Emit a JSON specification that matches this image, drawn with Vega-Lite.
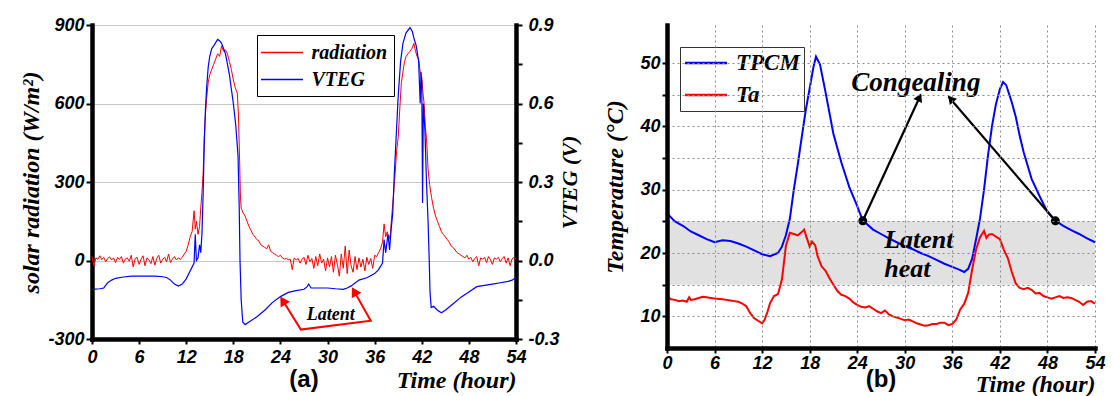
{
  "$schema": "https://vega.github.io/schema/vega-lite/v6.json",
  "background": "white",
  "padding": {"left": 19, "top": 16, "right": 5, "bottom": 0},
  "spacing": 22,
  "datasets": {
    "rad": [
      {"h":0,"r":15},{"h":0.25,"r":-20},{"h":0.5,"r":10},{"h":0.75,"r":5},{"h":1,"r":18},{"h":1.25,"r":3},{"h":1.5,"r":12},{"h":1.75,"r":-5},{"h":2,"r":8},{"h":2.25,"r":14},{"h":2.5,"r":2},{"h":2.75,"r":10},{"h":3,"r":-8},{"h":3.25,"r":12},{"h":3.5,"r":4},{"h":3.75,"r":15},{"h":4,"r":-10},{"h":4.25,"r":6},{"h":4.5,"r":10},{"h":4.75,"r":-3},{"h":5,"r":20},{"h":5.25,"r":-25},{"h":5.5,"r":8},{"h":5.75,"r":12},{"h":6,"r":-15},{"h":6.25,"r":5},{"h":6.5,"r":18},{"h":6.75,"r":-20},{"h":7,"r":10},{"h":7.25,"r":3},{"h":7.5,"r":-12},{"h":7.75,"r":15},{"h":8,"r":-18},{"h":8.25,"r":8},{"h":8.5,"r":20},{"h":8.75,"r":-10},{"h":9,"r":5},{"h":9.25,"r":12},{"h":9.5,"r":-5},{"h":9.75,"r":25},{"h":10,"r":-8},{"h":10.25,"r":6},{"h":10.5,"r":15},{"h":10.75,"r":2},{"h":11,"r":10},{"h":11.25,"r":5},{"h":11.5,"r":12},{"h":11.75,"r":25},{"h":12,"r":35},{"h":12.25,"r":60},{"h":12.5,"r":90},{"h":12.75,"r":110},{"h":13,"r":190},{"h":13.15,"r":120},{"h":13.3,"r":150},{"h":13.5,"r":100},{"h":13.7,"r":130},{"h":13.85,"r":200},{"h":14,"r":260},{"h":14.15,"r":330},{"h":14.3,"r":470},{"h":14.45,"r":560},{"h":14.6,"r":620},{"h":14.8,"r":680},{"h":15,"r":710},{"h":15.25,"r":730},{"h":15.5,"r":750},{"h":15.75,"r":770},{"h":16,"r":790},{"h":16.25,"r":780},{"h":16.5,"r":820},{"h":16.75,"r":800},{"h":17,"r":805},{"h":17.25,"r":790},{"h":17.5,"r":760},{"h":17.75,"r":730},{"h":18,"r":690},{"h":18.25,"r":660},{"h":18.5,"r":640},{"h":18.65,"r":560},{"h":18.8,"r":380},{"h":18.9,"r":250},{"h":19,"r":200},{"h":19.2,"r":185},{"h":19.5,"r":170},{"h":19.75,"r":150},{"h":20,"r":130},{"h":20.25,"r":115},{"h":20.5,"r":100},{"h":20.75,"r":90},{"h":21,"r":80},{"h":21.25,"r":75},{"h":21.5,"r":60},{"h":21.75,"r":55},{"h":22,"r":50},{"h":22.25,"r":45},{"h":22.5,"r":60},{"h":22.75,"r":35},{"h":23,"r":30},{"h":23.25,"r":25},{"h":23.5,"r":20},{"h":23.75,"r":15},{"h":24,"r":20},{"h":24.25,"r":10},{"h":24.5,"r":5},{"h":24.75,"r":8},{"h":25,"r":3},{"h":25.25,"r":5},{"h":25.5,"r":-35},{"h":25.75,"r":10},{"h":26,"r":2},{"h":26.25,"r":8},{"h":26.5,"r":-10},{"h":26.75,"r":5},{"h":27,"r":12},{"h":27.25,"r":-15},{"h":27.5,"r":20},{"h":27.75,"r":-5},{"h":28,"r":8},{"h":28.25,"r":-30},{"h":28.5,"r":15},{"h":28.75,"r":-20},{"h":29,"r":25},{"h":29.25,"r":-10},{"h":29.5,"r":5},{"h":29.75,"r":-40},{"h":30,"r":10},{"h":30.25,"r":-25},{"h":30.5,"r":15},{"h":30.75,"r":-45},{"h":31,"r":20},{"h":31.25,"r":-15},{"h":31.5,"r":-60},{"h":31.75,"r":25},{"h":32,"r":-30},{"h":32.25,"r":55},{"h":32.5,"r":-50},{"h":32.75,"r":40},{"h":33,"r":-20},{"h":33.25,"r":-45},{"h":33.5,"r":15},{"h":33.75,"r":-35},{"h":34,"r":10},{"h":34.25,"r":-25},{"h":34.5,"r":5},{"h":34.75,"r":-40},{"h":35,"r":12},{"h":35.25,"r":-15},{"h":35.5,"r":8},{"h":35.75,"r":-30},{"h":36,"r":20},{"h":36.25,"r":15},{"h":36.5,"r":30},{"h":36.75,"r":45},{"h":37,"r":70},{"h":37.2,"r":140},{"h":37.4,"r":90},{"h":37.6,"r":110},{"h":37.8,"r":80},{"h":38,"r":100},{"h":38.2,"r":180},{"h":38.4,"r":250},{"h":38.6,"r":330},{"h":38.8,"r":420},{"h":39,"r":470},{"h":39.2,"r":580},{"h":39.4,"r":680},{"h":39.6,"r":720},{"h":39.8,"r":760},{"h":40,"r":780},{"h":40.25,"r":790},{"h":40.5,"r":800},{"h":40.75,"r":810},{"h":41,"r":830},{"h":41.2,"r":800},{"h":41.4,"r":780},{"h":41.6,"r":770},{"h":41.8,"r":720},{"h":42,"r":700},{"h":42.15,"r":640},{"h":42.3,"r":600},{"h":42.45,"r":510},{"h":42.6,"r":470},{"h":42.8,"r":350},{"h":43,"r":290},{"h":43.25,"r":240},{"h":43.5,"r":200},{"h":43.75,"r":170},{"h":44,"r":150},{"h":44.25,"r":130},{"h":44.5,"r":110},{"h":44.75,"r":100},{"h":45,"r":90},{"h":45.25,"r":80},{"h":45.5,"r":70},{"h":45.75,"r":55},{"h":46,"r":50},{"h":46.25,"r":40},{"h":46.5,"r":30},{"h":46.75,"r":25},{"h":47,"r":20},{"h":47.25,"r":15},{"h":47.5,"r":10},{"h":47.75,"r":20},{"h":48,"r":5},{"h":48.25,"r":12},{"h":48.5,"r":-5},{"h":48.75,"r":8},{"h":49,"r":15},{"h":49.25,"r":-20},{"h":49.5,"r":10},{"h":49.75,"r":5},{"h":50,"r":12},{"h":50.25,"r":-8},{"h":50.5,"r":15},{"h":50.75,"r":3},{"h":51,"r":-15},{"h":51.25,"r":10},{"h":51.5,"r":5},{"h":51.75,"r":12},{"h":52,"r":-5},{"h":52.25,"r":8},{"h":52.5,"r":15},{"h":52.75,"r":-10},{"h":53,"r":10},{"h":53.25,"r":-20},{"h":53.5,"r":6},{"h":53.75,"r":12},{"h":54,"r":5}
    ],
    "vteg": [
      {"h":0,"v":-0.11},{"h":1,"v":-0.108},{"h":1.5,"v":-0.105},{"h":2,"v":-0.085},{"h":2.5,"v":-0.075},{"h":3,"v":-0.068},{"h":4,"v":-0.063},{"h":5,"v":-0.06},{"h":6,"v":-0.06},{"h":7,"v":-0.06},{"h":8,"v":-0.06},{"h":9,"v":-0.062},{"h":9.5,"v":-0.065},{"h":10,"v":-0.075},{"h":10.5,"v":-0.09},{"h":11,"v":-0.098},{"h":11.5,"v":-0.09},{"h":12,"v":-0.07},{"h":12.5,"v":-0.04},{"h":13,"v":-0.01},{"h":13.15,"v":0.1},{"h":13.3,"v":0.0},{"h":13.5,"v":0.01},{"h":13.7,"v":0.06},{"h":13.85,"v":0.03},{"h":14,"v":0.1},{"h":14.15,"v":0.25},{"h":14.3,"v":0.45},{"h":14.45,"v":0.58},{"h":14.6,"v":0.66},{"h":14.8,"v":0.74},{"h":15,"v":0.78},{"h":15.25,"v":0.81},{"h":15.5,"v":0.82},{"h":16,"v":0.845},{"h":16.25,"v":0.84},{"h":16.5,"v":0.83},{"h":17,"v":0.79},{"h":17.5,"v":0.71},{"h":18,"v":0.6},{"h":18.3,"v":0.52},{"h":18.6,"v":0.4},{"h":18.75,"v":0.2},{"h":18.85,"v":0.0},{"h":19,"v":-0.15},{"h":19.2,"v":-0.235},{"h":19.5,"v":-0.245},{"h":20,"v":-0.235},{"h":21,"v":-0.215},{"h":22,"v":-0.19},{"h":23,"v":-0.16},{"h":24,"v":-0.138},{"h":25,"v":-0.122},{"h":26,"v":-0.115},{"h":27,"v":-0.11},{"h":27.4,"v":-0.1},{"h":27.6,"v":-0.09},{"h":27.9,"v":-0.105},{"h":28.5,"v":-0.105},{"h":30,"v":-0.105},{"h":31,"v":-0.108},{"h":32,"v":-0.11},{"h":32.5,"v":-0.105},{"h":33,"v":-0.097},{"h":34,"v":-0.075},{"h":35,"v":-0.066},{"h":36,"v":-0.05},{"h":36.5,"v":-0.035},{"h":37,"v":-0.01},{"h":37.2,"v":0.08},{"h":37.4,"v":0.03},{"h":37.7,"v":0.1},{"h":37.9,"v":0.04},{"h":38.1,"v":0.12},{"h":38.3,"v":0.18},{"h":38.5,"v":0.33},{"h":38.7,"v":0.45},{"h":39,"v":0.63},{"h":39.3,"v":0.76},{"h":39.6,"v":0.83},{"h":40,"v":0.87},{"h":40.5,"v":0.89},{"h":40.8,"v":0.875},{"h":41,"v":0.85},{"h":41.3,"v":0.82},{"h":41.6,"v":0.76},{"h":41.8,"v":0.6},{"h":41.9,"v":0.72},{"h":42,"v":0.68},{"h":42.1,"v":0.22},{"h":42.2,"v":0.6},{"h":42.4,"v":0.5},{"h":42.6,"v":0.3},{"h":42.8,"v":0.15},{"h":42.95,"v":0.0},{"h":43.05,"v":-0.12},{"h":43.2,"v":-0.18},{"h":43.5,"v":-0.175},{"h":44,"v":-0.19},{"h":44.5,"v":-0.2},{"h":45,"v":-0.19},{"h":46,"v":-0.165},{"h":47,"v":-0.14},{"h":48,"v":-0.12},{"h":49,"v":-0.1},{"h":50,"v":-0.095},{"h":51,"v":-0.09},{"h":52,"v":-0.085},{"h":53,"v":-0.08},{"h":53.5,"v":-0.075},{"h":54,"v":-0.065}
    ],
    "latentPath": [
      {"h":24.3,"r":-153,"o":1},{"h":26.6,"r":-264,"o":2},{"h":35.5,"r":-230,"o":3},{"h":33.4,"r":-118,"o":4}
    ],
    "latentHead1": [{"h":24.3,"r":-153}],
    "latentHead2": [{"h":33.4,"r":-118}],
    "latentText": [{"h":30.4,"r":-208,"t":"Latent"}],
    "temps": [
      {"s":"TPCM","h":0,"t":27.2},{"s":"TPCM","h":0.2,"t":26},{"s":"TPCM","h":1,"t":25},{"s":"TPCM","h":2,"t":24.3},{"s":"TPCM","h":3,"t":23.4},{"s":"TPCM","h":4,"t":22.8},{"s":"TPCM","h":5,"t":22.2},{"s":"TPCM","h":6,"t":21.7},{"s":"TPCM","h":7,"t":22.0},{"s":"TPCM","h":8,"t":21.9},{"s":"TPCM","h":9,"t":21.5},{"s":"TPCM","h":10,"t":21.0},{"s":"TPCM","h":11,"t":20.4},{"s":"TPCM","h":12,"t":19.8},{"s":"TPCM","h":13,"t":19.5},{"s":"TPCM","h":14,"t":20.0},{"s":"TPCM","h":14.5,"t":21.0},{"s":"TPCM","h":15,"t":22.8},{"s":"TPCM","h":15.5,"t":25.4},{"s":"TPCM","h":16,"t":30},{"s":"TPCM","h":16.5,"t":34},{"s":"TPCM","h":17,"t":38.3},{"s":"TPCM","h":17.5,"t":42.5},{"s":"TPCM","h":18,"t":46},{"s":"TPCM","h":18.5,"t":49.5},{"s":"TPCM","h":18.8,"t":51},{"s":"TPCM","h":19.3,"t":49.8},{"s":"TPCM","h":20,"t":45.4},{"s":"TPCM","h":21,"t":38.8},{"s":"TPCM","h":22,"t":34.3},{"s":"TPCM","h":23,"t":30.4},{"s":"TPCM","h":24,"t":27.4},{"s":"TPCM","h":24.7,"t":25.1},{"s":"TPCM","h":25,"t":24.8},{"s":"TPCM","h":26,"t":23.7},{"s":"TPCM","h":27,"t":23},{"s":"TPCM","h":28,"t":22.3},{"s":"TPCM","h":29,"t":21.7},{"s":"TPCM","h":30,"t":21.1},{"s":"TPCM","h":31,"t":20.6},{"s":"TPCM","h":32,"t":20.0},{"s":"TPCM","h":33,"t":19.5},{"s":"TPCM","h":34,"t":18.9},{"s":"TPCM","h":35,"t":18.3},{"s":"TPCM","h":36,"t":17.8},{"s":"TPCM","h":37,"t":17.3},{"s":"TPCM","h":37.5,"t":17.0},{"s":"TPCM","h":38,"t":17.5},{"s":"TPCM","h":38.5,"t":19.1},{"s":"TPCM","h":39,"t":22.2},{"s":"TPCM","h":39.5,"t":25.5},{"s":"TPCM","h":40,"t":30},{"s":"TPCM","h":40.5,"t":35.4},{"s":"TPCM","h":41,"t":40},{"s":"TPCM","h":41.5,"t":43.5},{"s":"TPCM","h":42,"t":45.9},{"s":"TPCM","h":42.4,"t":47},{"s":"TPCM","h":42.8,"t":46.5},{"s":"TPCM","h":43.5,"t":43.8},{"s":"TPCM","h":44,"t":41.5},{"s":"TPCM","h":44.5,"t":38.5},{"s":"TPCM","h":45,"t":35.9},{"s":"TPCM","h":46,"t":31.7},{"s":"TPCM","h":47,"t":29},{"s":"TPCM","h":48,"t":26.5},{"s":"TPCM","h":49,"t":25.1},{"s":"TPCM","h":50,"t":24.3},{"s":"TPCM","h":51,"t":23.6},{"s":"TPCM","h":52,"t":23},{"s":"TPCM","h":53,"t":22.3},{"s":"TPCM","h":54,"t":21.7},
      {"s":"Ta","h":0,"t":13.2},{"s":"Ta","h":0.5,"t":12.7},{"s":"Ta","h":1,"t":12.6},{"s":"Ta","h":1.5,"t":12.4},{"s":"Ta","h":2,"t":12.5},{"s":"Ta","h":2.5,"t":12.3},{"s":"Ta","h":2.8,"t":13.0},{"s":"Ta","h":3,"t":12.6},{"s":"Ta","h":3.5,"t":12.7},{"s":"Ta","h":4,"t":12.9},{"s":"Ta","h":4.5,"t":13.1},{"s":"Ta","h":5,"t":13.0},{"s":"Ta","h":5.5,"t":12.9},{"s":"Ta","h":6,"t":12.8},{"s":"Ta","h":7,"t":12.7},{"s":"Ta","h":7.5,"t":12.6},{"s":"Ta","h":8,"t":12.5},{"s":"Ta","h":8.5,"t":12.4},{"s":"Ta","h":9,"t":12.3},{"s":"Ta","h":9.5,"t":12.0},{"s":"Ta","h":10,"t":11.6},{"s":"Ta","h":10.5,"t":10.5},{"s":"Ta","h":11,"t":9.7},{"s":"Ta","h":11.5,"t":9.3},{"s":"Ta","h":12,"t":8.9},{"s":"Ta","h":12.3,"t":9.4},{"s":"Ta","h":12.7,"t":10.8},{"s":"Ta","h":13,"t":12.1},{"s":"Ta","h":13.5,"t":13.2},{"s":"Ta","h":14,"t":13.5},{"s":"Ta","h":14.5,"t":15.8},{"s":"Ta","h":15,"t":21.1},{"s":"Ta","h":15.5,"t":23.2},{"s":"Ta","h":16,"t":23.0},{"s":"Ta","h":16.5,"t":22.8},{"s":"Ta","h":17,"t":23.3},{"s":"Ta","h":17.3,"t":23.7},{"s":"Ta","h":17.6,"t":22.5},{"s":"Ta","h":18,"t":21.0},{"s":"Ta","h":18.3,"t":21.8},{"s":"Ta","h":18.7,"t":21.2},{"s":"Ta","h":19,"t":19.5},{"s":"Ta","h":19.5,"t":17.9},{"s":"Ta","h":20,"t":17.2},{"s":"Ta","h":20.5,"t":16.0},{"s":"Ta","h":21,"t":15.0},{"s":"Ta","h":21.5,"t":14.0},{"s":"Ta","h":22,"t":13.4},{"s":"Ta","h":22.5,"t":13.2},{"s":"Ta","h":23,"t":12.8},{"s":"Ta","h":23.5,"t":12.2},{"s":"Ta","h":24,"t":11.8},{"s":"Ta","h":24.5,"t":11.5},{"s":"Ta","h":25,"t":11.4},{"s":"Ta","h":25.5,"t":11.6},{"s":"Ta","h":26,"t":11.2},{"s":"Ta","h":26.5,"t":10.8},{"s":"Ta","h":27,"t":10.5},{"s":"Ta","h":27.5,"t":10.9},{"s":"Ta","h":28,"t":10.3},{"s":"Ta","h":28.5,"t":10.0},{"s":"Ta","h":29,"t":9.8},{"s":"Ta","h":29.5,"t":9.6},{"s":"Ta","h":30,"t":9.4},{"s":"Ta","h":30.5,"t":9.5},{"s":"Ta","h":31,"t":9.2},{"s":"Ta","h":31.5,"t":8.9},{"s":"Ta","h":32,"t":8.7},{"s":"Ta","h":32.5,"t":8.5},{"s":"Ta","h":33,"t":8.6},{"s":"Ta","h":33.5,"t":8.8},{"s":"Ta","h":34,"t":8.8},{"s":"Ta","h":34.5,"t":9.0},{"s":"Ta","h":35,"t":9.0},{"s":"Ta","h":35.5,"t":8.6},{"s":"Ta","h":36,"t":8.8},{"s":"Ta","h":36.5,"t":9.5},{"s":"Ta","h":37,"t":11.1},{"s":"Ta","h":37.5,"t":12.0},{"s":"Ta","h":38,"t":13.7},{"s":"Ta","h":38.5,"t":17.4},{"s":"Ta","h":39,"t":20.6},{"s":"Ta","h":39.5,"t":22.5},{"s":"Ta","h":40,"t":23.5},{"s":"Ta","h":40.3,"t":22.4},{"s":"Ta","h":40.6,"t":22.9},{"s":"Ta","h":41,"t":23.0},{"s":"Ta","h":41.5,"t":22.6},{"s":"Ta","h":42,"t":22.2},{"s":"Ta","h":42.5,"t":20.5},{"s":"Ta","h":43,"t":19.2},{"s":"Ta","h":43.5,"t":17.0},{"s":"Ta","h":44,"t":15.2},{"s":"Ta","h":44.5,"t":14.5},{"s":"Ta","h":45,"t":14.3},{"s":"Ta","h":45.5,"t":14.5},{"s":"Ta","h":46,"t":14.2},{"s":"Ta","h":46.5,"t":13.6},{"s":"Ta","h":47,"t":13.7},{"s":"Ta","h":47.5,"t":13.2},{"s":"Ta","h":48,"t":13.0},{"s":"Ta","h":48.5,"t":12.8},{"s":"Ta","h":49,"t":13.0},{"s":"Ta","h":49.5,"t":13.2},{"s":"Ta","h":50,"t":12.9},{"s":"Ta","h":50.5,"t":13.0},{"s":"Ta","h":51,"t":12.9},{"s":"Ta","h":51.5,"t":12.6},{"s":"Ta","h":52,"t":12.3},{"s":"Ta","h":52.5,"t":11.8},{"s":"Ta","h":53,"t":12.3},{"s":"Ta","h":53.5,"t":12.4},{"s":"Ta","h":54,"t":12.0}
    ],
    "band": [{"h":0,"h2":54,"t":15,"t2":25}],
    "arrows": [{"h":24.7,"t":25.08,"h2":32.0,"t2":44.95},{"h":49.0,"t":25.08,"h2":35.5,"t2":44.7}],
    "head1": [{"h":31.85,"t":44.6}],
    "head2": [{"h":35.8,"t":44.35}],
    "dots": [{"h":24.7,"t":25.08},{"h":49.0,"t":25.08}],
    "congeal": [{"h":31.4,"t":46.8,"txt":"Congealing"}],
    "latentHeat": [{"h":27.4,"t":22.0,"txt":"Latent"},{"h":27.4,"t":17.5,"txt":"heat"}]
  },
  "hconcat": [
    {
      "width": 424,
      "height": 314,
      "title": {"text": "(a)", "orient": "bottom", "frame": "group", "anchor": "middle", "offset": -24, "font": "Liberation Sans", "fontSize": 24, "fontWeight": "bold", "color": "black"},
      "layer": [
        {
          "layer": [
            {
              "data": {"name": "rad"},
              "mark": {"type": "line", "color": "#ff0000", "strokeWidth": 1},
              "encoding": {
                "x": {"field": "h", "type": "quantitative", "title": "Time (hour)", "scale": {"domain": [0, 54], "nice": false, "zero": false},
                  "axis": {"values": [0,3,6,9,12,15,18,21,24,27,30,33,36,39,42,45,48,51,54], "labelExpr": "datum.value % 6 == 0 ? '' + datum.value : ''", "grid": false, "tickSize": 5, "labelPadding": 4, "titlePadding": 2, "titleAnchor": "end"}},
                "y": {"field": "r", "type": "quantitative", "title": "solar radiation (W/m²)", "scale": {"domain": [-300, 900], "nice": false, "zero": false},
                  "axis": {"orient": "left", "values": [-300,-150,0,150,300,450,600,750,900], "labelExpr": "datum.value % 300 == 0 ? '' + datum.value : ''", "grid": true, "gridColor": "#c8c8c8", "gridWidth": 1, "tickSize": 6, "labelPadding": 2, "titlePadding": 4}},
                "color": {"datum": "radiation", "type": "nominal", "scale": {"domain": ["radiation", "VTEG"], "range": ["#ff0000", "#0000ff"]},
                  "legend": {"orient": "none", "legendX": 165, "legendY": 10, "title": null, "symbolType": "M-2,0H2", "symbolSize": 441, "symbolStrokeWidth": 1.3, "symbolOffset": 7.5, "labelOffset": 18, "labelFont": "Liberation Serif", "labelFontSize": 20, "labelFontStyle": "italic", "labelFontWeight": "bold", "labelColor": "black", "strokeColor": "black", "fillColor": "white", "padding": 6, "rowPadding": 5}}
              }
            },
            {
              "data": {"name": "latentPath"},
              "mark": {"type": "line", "color": "#ff0000", "strokeWidth": 2},
              "encoding": {
                "x": {"field": "h", "type": "quantitative", "title": "Time (hour)"},
                "y": {"field": "r", "type": "quantitative", "title": "solar radiation (W/m²)"},
                "order": {"field": "o", "type": "quantitative"}
              }
            },
            {
              "data": {"name": "latentHead1"},
              "mark": {"type": "point", "shape": "triangle-up", "filled": true, "color": "#ff0000", "size": 120, "opacity": 1, "angle": 328},
              "encoding": {
                "x": {"field": "h", "type": "quantitative", "title": "Time (hour)"},
                "y": {"field": "r", "type": "quantitative", "title": "solar radiation (W/m²)"}
              }
            },
            {
              "data": {"name": "latentHead2"},
              "mark": {"type": "point", "shape": "triangle-up", "filled": true, "color": "#ff0000", "size": 120, "opacity": 1, "angle": 331},
              "encoding": {
                "x": {"field": "h", "type": "quantitative", "title": "Time (hour)"},
                "y": {"field": "r", "type": "quantitative", "title": "solar radiation (W/m²)"}
              }
            },
            {
              "data": {"name": "latentText"},
              "mark": {"type": "text", "font": "Liberation Serif", "fontSize": 18, "fontStyle": "italic", "fontWeight": "bold", "color": "black", "align": "center", "baseline": "middle"},
              "encoding": {
                "x": {"field": "h", "type": "quantitative", "title": "Time (hour)"},
                "y": {"field": "r", "type": "quantitative", "title": "solar radiation (W/m²)"},
                "text": {"field": "t"}
              }
            },
            {
              "mark": {"type": "rule", "color": "black", "strokeWidth": 5},
              "encoding": {
                "y": {"datum": 0, "type": "quantitative"}
              }
            }
          ]
        },
        {
          "data": {"name": "vteg"},
          "mark": {"type": "line", "strokeWidth": 1.2},
          "encoding": {
            "x": {"field": "h", "type": "quantitative", "title": "Time (hour)"},
            "y": {"field": "v", "type": "quantitative", "title": "VTEG (V)", "scale": {"domain": [-0.3, 0.9], "nice": false, "zero": false},
              "axis": {"orient": "right", "values": [-0.3,-0.15,0,0.15,0.3,0.45,0.6,0.75,0.9], "labelExpr": "round(datum.value*100) % 30 == 0 ? (datum.value == 0 ? '0.0' : '' + datum.value) : ''", "grid": false, "tickSize": 6, "labelPadding": 6, "titlePadding": 22, "titleFontSize": 22, "titleAngle": 270}},
            "color": {"datum": "VTEG", "type": "nominal"}
          }
        }
      ],
      "resolve": {"scale": {"y": "independent"}}
    },
    {
      "width": 428,
      "height": 323,
      "title": {"text": "(b)", "orient": "bottom", "frame": "group", "anchor": "middle", "offset": -28, "font": "Liberation Sans", "fontSize": 24, "fontWeight": "bold", "color": "black"},
      "layer": [
        {
          "data": {"name": "band"},
          "mark": {"type": "rect", "color": "#c4c4c4", "opacity": 0.5},
          "encoding": {
            "x": {"field": "h", "type": "quantitative", "title": "Time (hour)", "scale": {"domain": [0, 54], "nice": false, "zero": false},
              "axis": {"values": [0,3,6,9,12,15,18,21,24,27,30,33,36,39,42,45,48,51,54], "labelExpr": "datum.value % 6 == 0 ? '' + datum.value : ''", "grid": true, "gridColor": "#8a8a8a", "gridDash": [2, 3], "gridWidth": 1, "tickSize": 5, "labelPadding": 1, "titlePadding": 0, "titleAnchor": "end", "zindex": 1}},
            "x2": {"field": "h2"},
            "y": {"field": "t", "type": "quantitative", "title": "Temperature (°C)", "scale": {"domain": [5, 56], "nice": false, "zero": false},
              "axis": {"values": [10,15,20,25,30,35,40,45,50], "labelExpr": "datum.value % 10 == 0 ? '' + datum.value : ''", "grid": true, "gridColor": "#8a8a8a", "gridDash": [2, 3], "gridWidth": 1, "tickSize": 5, "labelPadding": 2, "titlePadding": 12, "zindex": 1}},
            "y2": {"field": "t2"}
          }
        },
        {
          "data": {"name": "temps"},
          "mark": {"type": "line", "strokeWidth": 2},
          "encoding": {
            "x": {"field": "h", "type": "quantitative", "title": "Time (hour)"},
            "y": {"field": "t", "type": "quantitative", "title": "Temperature (°C)"},
            "color": {"field": "s", "type": "nominal", "scale": {"domain": ["TPCM", "Ta"], "range": ["#0000ff", "#ff0000"]},
              "legend": {"orient": "none", "legendX": 13, "legendY": 22, "title": null, "symbolType": "M-2,0H2", "symbolSize": 441, "symbolStrokeWidth": 2.5, "symbolOffset": 10, "labelOffset": 18, "labelFont": "Liberation Serif", "labelFontSize": 23, "labelFontStyle": "italic", "labelFontWeight": "bold", "labelColor": "black", "strokeColor": "#333333", "fillColor": "white", "padding": 4, "rowPadding": 8}}
          }
        },
        {
          "data": {"name": "arrows"},
          "mark": {"type": "rule", "color": "black", "strokeWidth": 2.2},
          "encoding": {
            "x": {"field": "h", "type": "quantitative", "title": "Time (hour)"},
            "y": {"field": "t", "type": "quantitative", "title": "Temperature (°C)"},
            "x2": {"field": "h2"},
            "y2": {"field": "t2"}
          }
        },
        {
          "data": {"name": "head1"},
          "mark": {"type": "point", "shape": "triangle-up", "filled": true, "color": "black", "size": 90, "opacity": 1, "angle": 24},
          "encoding": {
            "x": {"field": "h", "type": "quantitative", "title": "Time (hour)"},
            "y": {"field": "t", "type": "quantitative", "title": "Temperature (°C)"}
          }
        },
        {
          "data": {"name": "head2"},
          "mark": {"type": "point", "shape": "triangle-up", "filled": true, "color": "black", "size": 90, "opacity": 1, "angle": 319},
          "encoding": {
            "x": {"field": "h", "type": "quantitative", "title": "Time (hour)"},
            "y": {"field": "t", "type": "quantitative", "title": "Temperature (°C)"}
          }
        },
        {
          "data": {"name": "dots"},
          "mark": {"type": "point", "shape": "circle", "filled": true, "color": "black", "size": 80, "opacity": 1},
          "encoding": {
            "x": {"field": "h", "type": "quantitative", "title": "Time (hour)"},
            "y": {"field": "t", "type": "quantitative", "title": "Temperature (°C)"}
          }
        },
        {
          "data": {"name": "congeal"},
          "mark": {"type": "text", "font": "Liberation Serif", "fontSize": 27, "fontStyle": "italic", "fontWeight": "bold", "color": "black", "align": "center", "baseline": "middle"},
          "encoding": {
            "x": {"field": "h", "type": "quantitative", "title": "Time (hour)"},
            "y": {"field": "t", "type": "quantitative", "title": "Temperature (°C)"},
            "text": {"field": "txt"}
          }
        },
        {
          "data": {"name": "latentHeat"},
          "mark": {"type": "text", "font": "Liberation Serif", "fontSize": 26, "fontStyle": "italic", "fontWeight": "bold", "color": "black", "align": "left", "baseline": "middle"},
          "encoding": {
            "x": {"field": "h", "type": "quantitative", "title": "Time (hour)"},
            "y": {"field": "t", "type": "quantitative", "title": "Temperature (°C)"},
            "text": {"field": "txt"}
          }
        }
      ]
    }
  ],
  "resolve": {"scale": {"x": "independent", "y": "independent", "color": "independent"}, "legend": {"color": "independent"}},
  "config": {
    "view": {"stroke": null},
    "font": "Liberation Sans",
    "axis": {
      "domainColor": "black", "domainWidth": 4.5, "domainCap": "square",
      "tickColor": "black", "tickWidth": 2,
      "labelColor": "black", "labelFont": "Liberation Sans", "labelFontSize": 18, "labelFontStyle": "italic", "labelFontWeight": "bold",
      "titleColor": "black", "titleFont": "Liberation Serif", "titleFontSize": 24, "titleFontStyle": "italic", "titleFontWeight": "bold",
      "labelFlush": false, "labelOverlap": false, "labelBound": false
    }
  }
}
